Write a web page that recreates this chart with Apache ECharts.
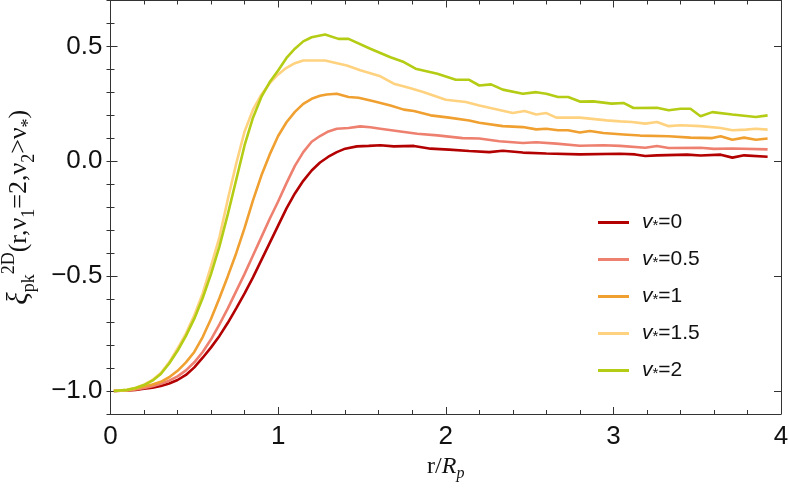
<!DOCTYPE html>
<html>
<head>
<meta charset="utf-8">
<script src="https://cdn.jsdelivr.net/npm/echarts@6/dist/echarts.min.js"></script>
<style>
  html, body { margin: 0; padding: 0; background: #fff; }
  #chart { width: 789px; height: 493px; }
</style>
</head>
<body>
<div id="chart"></div>
<script>
// values, [r/Rp, xi]
const nuStar0 = [[0.02,-1.0],[0.1,-0.998],[0.15,-0.995],[0.2,-0.99],[0.25,-0.986],[0.3,-0.978],[0.35,-0.967],[0.4,-0.952],[0.45,-0.93],[0.5,-0.897],[0.55,-0.855],[0.6,-0.81],[0.65,-0.76],[0.7,-0.703],[0.75,-0.64],[0.8,-0.575],[0.85,-0.505],[0.9,-0.43],[0.95,-0.355],[1.0,-0.28],[1.05,-0.205],[1.1,-0.14],[1.15,-0.085],[1.2,-0.04],[1.25,-0.005],[1.3,0.02],[1.35,0.04],[1.4,0.055],[1.47,0.065],[1.54,0.067],[1.61,0.07],[1.69,0.065],[1.75,0.066],[1.81,0.067],[1.91,0.055],[2.02,0.051],[2.14,0.045],[2.26,0.04],[2.34,0.046],[2.46,0.038],[2.6,0.034],[2.8,0.03],[3.04,0.033],[3.13,0.03],[3.19,0.023],[3.26,0.026],[3.44,0.029],[3.52,0.025],[3.64,0.029],[3.71,0.016],[3.78,0.026],[3.92,0.02]];
const nuStar05 = [[0.02,-1.0],[0.1,-0.997],[0.15,-0.993],[0.2,-0.987],[0.25,-0.979],[0.3,-0.968],[0.35,-0.955],[0.4,-0.936],[0.45,-0.91],[0.5,-0.875],[0.55,-0.83],[0.6,-0.775],[0.65,-0.71],[0.7,-0.64],[0.75,-0.565],[0.8,-0.49],[0.85,-0.41],[0.9,-0.33],[0.95,-0.25],[1.0,-0.175],[1.05,-0.095],[1.1,-0.02],[1.15,0.04],[1.2,0.085],[1.25,0.11],[1.3,0.13],[1.35,0.142],[1.42,0.145],[1.49,0.152],[1.55,0.148],[1.61,0.142],[1.73,0.13],[1.83,0.12],[1.95,0.113],[2.1,0.101],[2.2,0.099],[2.32,0.087],[2.46,0.08],[2.54,0.083],[2.66,0.077],[2.8,0.068],[2.94,0.07],[3.04,0.067],[3.19,0.059],[3.26,0.067],[3.33,0.058],[3.52,0.059],[3.6,0.054],[3.71,0.056],[3.92,0.052]];
const nuStar1 = [[0.02,-1.0],[0.1,-0.996],[0.15,-0.99],[0.2,-0.98],[0.25,-0.972],[0.3,-0.96],[0.35,-0.94],[0.4,-0.912],[0.45,-0.875],[0.5,-0.83],[0.55,-0.765],[0.6,-0.685],[0.65,-0.595],[0.7,-0.5],[0.75,-0.4],[0.8,-0.29],[0.85,-0.17],[0.9,-0.062],[0.95,0.03],[1.0,0.11],[1.05,0.17],[1.1,0.215],[1.15,0.25],[1.2,0.272],[1.25,0.285],[1.29,0.291],[1.35,0.294],[1.42,0.28],[1.48,0.277],[1.57,0.261],[1.67,0.243],[1.75,0.225],[1.81,0.219],[1.91,0.2],[2.02,0.19],[2.14,0.178],[2.2,0.168],[2.34,0.153],[2.46,0.149],[2.54,0.139],[2.6,0.142],[2.67,0.135],[2.73,0.135],[2.8,0.125],[2.86,0.132],[2.94,0.123],[3.06,0.117],[3.16,0.112],[3.33,0.109],[3.46,0.103],[3.59,0.101],[3.64,0.109],[3.71,0.094],[3.78,0.103],[3.85,0.094],[3.92,0.099]];
const nuStar15 = [[0.02,-1.0],[0.1,-0.995],[0.15,-0.986],[0.2,-0.972],[0.25,-0.952],[0.3,-0.922],[0.35,-0.875],[0.4,-0.815],[0.45,-0.75],[0.5,-0.67],[0.55,-0.575],[0.6,-0.455],[0.65,-0.33],[0.7,-0.165],[0.75,-0.01],[0.8,0.13],[0.85,0.225],[0.9,0.29],[0.95,0.34],[1.0,0.378],[1.05,0.407],[1.1,0.427],[1.15,0.439],[1.28,0.439],[1.41,0.417],[1.49,0.396],[1.61,0.37],[1.69,0.338],[1.78,0.32],[1.87,0.301],[2.0,0.268],[2.12,0.258],[2.2,0.243],[2.4,0.21],[2.47,0.219],[2.54,0.204],[2.6,0.21],[2.66,0.19],[2.8,0.19],[2.96,0.178],[3.04,0.174],[3.11,0.171],[3.19,0.164],[3.26,0.171],[3.33,0.153],[3.4,0.157],[3.52,0.153],[3.64,0.145],[3.71,0.135],[3.79,0.138],[3.85,0.142],[3.92,0.138]];
const nuStar2 = [[0.02,-1.0],[0.1,-0.995],[0.15,-0.987],[0.2,-0.974],[0.25,-0.955],[0.3,-0.926],[0.35,-0.88],[0.4,-0.825],[0.45,-0.76],[0.5,-0.685],[0.55,-0.595],[0.6,-0.49],[0.65,-0.37],[0.7,-0.23],[0.75,-0.08],[0.8,0.07],[0.85,0.19],[0.9,0.28],[0.95,0.345],[1.0,0.395],[1.05,0.45],[1.1,0.49],[1.15,0.522],[1.2,0.54],[1.28,0.552],[1.36,0.533],[1.42,0.533],[1.55,0.49],[1.67,0.453],[1.75,0.432],[1.82,0.403],[1.95,0.381],[2.06,0.355],[2.14,0.355],[2.2,0.33],[2.27,0.335],[2.34,0.312],[2.46,0.294],[2.54,0.301],[2.6,0.294],[2.67,0.28],[2.73,0.28],[2.8,0.26],[2.88,0.261],[2.99,0.251],[3.06,0.254],[3.12,0.232],[3.26,0.233],[3.33,0.222],[3.4,0.229],[3.46,0.229],[3.52,0.196],[3.59,0.214],[3.71,0.204],[3.85,0.193],[3.92,0.2]];

const seriesNames = ['0', '0.5', '1', '1.5', '2'];
const seriesData = [nuStar0, nuStar05, nuStar1, nuStar15, nuStar2];
const colors = ['#B30000', '#EE8070', '#F0A030', '#FFD280', '#B4CC14'];

const frame = '#333';
const yMin = -1.1, yMax = 0.7;

function minus(v) {
    return v.toFixed(1).replace('-', '\u2212');
}

const chart = echarts.init(document.getElementById('chart'));

function xAx(pos, labels) {
    return {
        type: 'value', position: pos, min: 0, max: 4, interval: 1,
        axisLine: {show: true, onZero: false, lineStyle: {color: frame, width: 1}},
        axisTick: {show: true, inside: true, length: 7, lineStyle: {color: frame}},
        minorTick: {show: true, splitNumber: 5, length: 4, lineStyle: {color: frame}},
        axisLabel: {show: labels, color: '#111', fontFamily: 'Liberation Sans', fontSize: 26, margin: 10},
        splitLine: {show: false}
    };
}

function yMajor(pos, labels) {
    return {
        type: 'value', position: pos, min: yMin, max: yMax, splitNumber: 3,
        axisLine: {show: true, onZero: false, lineStyle: {color: frame, width: 1}},
        axisTick: {show: true, inside: true, length: 7, lineStyle: {color: frame}},
        axisLabel: {show: labels, showMinLabel: false, showMaxLabel: false, color: '#111',
            fontFamily: 'Liberation Sans', fontSize: 26, margin: 8, formatter: minus},
        splitLine: {show: false}
    };
}

function yMinor(pos) {
    return {
        type: 'value', position: pos, min: yMin, max: yMax, interval: 0.1,
        axisLine: {show: false},
        axisTick: {show: true, inside: true, length: 4, lineStyle: {color: frame}},
        axisLabel: {show: false},
        splitLine: {show: false}
    };
}

const xAxes = [xAx('bottom', true), xAx('top', false)];
xAxes[0].name = '{n|r/}{i|R}{sub|p}';
xAxes[0].nameLocation = 'middle';
xAxes[0].nameGap = 38;
xAxes[0].nameTextStyle = {
    rich: {
        n: {fontFamily: 'Liberation Serif', fontSize: 24, color: '#111', lineHeight: 30},
        i: {fontFamily: 'Liberation Serif', fontStyle: 'italic', fontSize: 24, color: '#111', lineHeight: 30},
        sub: {fontFamily: 'Liberation Serif', fontStyle: 'italic', fontSize: 16, color: '#111', lineHeight: 16, verticalAlign: 'bottom'}
    }
};

const yAxes = [yMajor('left', true), yMajor('right', false), yMinor('left'), yMinor('right')];
yAxes[0].name = '{xi|\u03BE}{sub|pk}{sup|2D}{n|(r,\u03BD}{sub|1}{n|=2,\u03BD}{sub|2}{n|>\u03BD}{sub|*}{n|)}';
yAxes[0].nameLocation = 'middle';
yAxes[0].nameRotate = 90;
yAxes[0].nameGap = 72;
yAxes[0].nameTextStyle = {
    rich: {
        xi: {fontFamily: 'Liberation Serif', fontStyle: 'italic', fontSize: 29, color: '#111', lineHeight: 38},
        n: {fontFamily: 'Liberation Serif', fontSize: 26, color: '#111', lineHeight: 38},
        sub: {fontFamily: 'Liberation Serif', fontSize: 18, color: '#111', lineHeight: 15, verticalAlign: 'bottom'},
        sup: {fontFamily: 'Liberation Serif', fontSize: 18, color: '#111', lineHeight: 15, verticalAlign: 'top'}
    }
};

const option = {
    animation: false,
    backgroundColor: '#fff',
    grid: {left: 110.5, right: 8, top: 0.5, bottom: 79, outerBoundsMode: 'none', containLabel: false},
    legend: {
        orient: 'vertical',
        left: 593, top: 207,
        icon: 'rect',
        itemWidth: 31, itemHeight: 3,
        itemGap: 15.5,
        data: seriesNames,
        formatter: name => '{i|v}{s|*}{t|=' + name + '}',
        textStyle: {
            rich: {
                i: {fontFamily: 'Liberation Sans', fontStyle: 'italic', fontSize: 21, color: '#111', lineHeight: 22, padding: [0, 0, 0, 8]},
                s: {fontFamily: 'Liberation Sans', fontSize: 15, color: '#111', lineHeight: 12, verticalAlign: 'bottom'},
                t: {fontFamily: 'Liberation Sans', fontSize: 21, color: '#111', lineHeight: 22}
            }
        }
    },
    xAxis: xAxes,
    yAxis: yAxes,
    series: seriesNames.map((n, i) => ({
        name: n,
        type: 'line',
        data: seriesData[i],
        showSymbol: false,
        symbol: 'none',
        color: colors[i],
        lineStyle: {width: 2.6, color: colors[i]},
        xAxisIndex: 0, yAxisIndex: 0,
        z: 2 + i
    }))
};

chart.setOption(option);
</script>
</body>
</html>
